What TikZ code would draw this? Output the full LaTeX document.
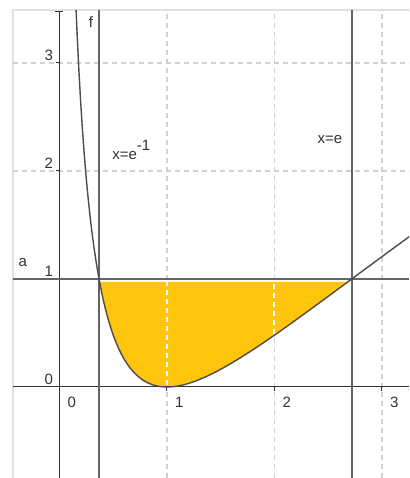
\documentclass[tikz,border=0pt]{standalone}
\usepackage{fontspec}
\setmainfont{Liberation Sans}
\usetikzlibrary{arrows.meta}
\definecolor{areafill}{RGB}{255,196,12}
\definecolor{framegray}{RGB}{224,224,224}
\definecolor{gridgray}{RGB}{208,208,208}
\definecolor{linegray}{RGB}{100,100,100}

\begin{document}
\begin{tikzpicture}[x=53.75pt, y=54pt,
	gridline/.style={gridgray, line width=0.6pt, dash pattern=on 2.5pt off 2pt},
	axis/.style={black!80, line width=0.5pt},
	vline/.style={linegray, line width=1pt},
	curve/.style={black!70, line width=0.7pt},
	lbl/.style={font=\fontsize{7.5}{8}\selectfont, text=black!80, inner sep=0pt}]
	\useasboundingbox[fill=white] (-0.5535,-0.8426) rectangle (3.2512,3.5833);
	% frame of the view
	\draw[framegray, line width=1pt] (-0.4326,-0.8426) -- (-0.4326,3.4907) -- (3.2512,3.4907);
	
	\begin{scope}
		\clip (-0.4326,-0.8426) rectangle (3.2512,3.4907);
		\foreach \k in {1,2,3}
			\draw[gridline] (\k,-0.8426) -- (\k,3.4907);
		\foreach \k in {2,3}
			\draw[gridline] (-0.4326,\k) -- (3.2512,\k);
		
		% area between a and f
		\fill[areafill] plot[domain=-0.987:0.987, samples=80, variable=\t] ({exp(\t)},{\t*\t}) -- cycle;
		\draw[white, line width=1pt, dash pattern=on 2.5pt off 2pt] (1,0.02) -- (1,0.975);
		\draw[white, line width=1pt, dash pattern=on 2.5pt off 2pt] (2,0.49) -- (2,0.975);
		
		% axes
		\draw[axis] (-0.4326,0) -- (3.2512,0);
		\draw[axis, -{Bar[width=4pt]}] (0,-0.8426) -- (0,3.48);
		\foreach \k in {1,2,3}
			\draw[axis] (\k,0) -- (\k,-0.035);
		\foreach \k in {0,1,2,3}
			\draw[axis] (0,\k) -- (-0.035,\k);
		
		% a, x=e^-1, x=e
		\draw[linegray, line width=0.7pt] (-0.4326,1) -- (3.2512,1);
		\draw[vline] (0.3679,-0.8426) -- (0.3679,3.4907);
		\draw[vline] (2.7183,-0.8426) -- (2.7183,3.4907);
		
		% f
		\draw[curve] plot[domain=-1.9:1.2, samples=200, variable=\t] ({exp(\t)},{\t*\t});
	\end{scope}
	
	\foreach \k in {0,1,2,3}
		\node[lbl] (ylab\k) at (-0.1,{\k+0.07}) {\k};
	\foreach \k in {0,1,2,3}
		\node[lbl] (xlab\k) at ({\k+0.115},-0.14) {\k};
	
	\node[lbl] (fname) at (0.293,3.38) {f};
	\node[lbl] (aname) at (-0.342,1.148) {a};
	\node[lbl, anchor=base west] (leftname) at (0.488,2.105) {x=e\raisebox{1.2ex}{-1}};
	\node[lbl] (rightname) at (2.516,2.29) {x=e};
\end{tikzpicture}
\end{document}
